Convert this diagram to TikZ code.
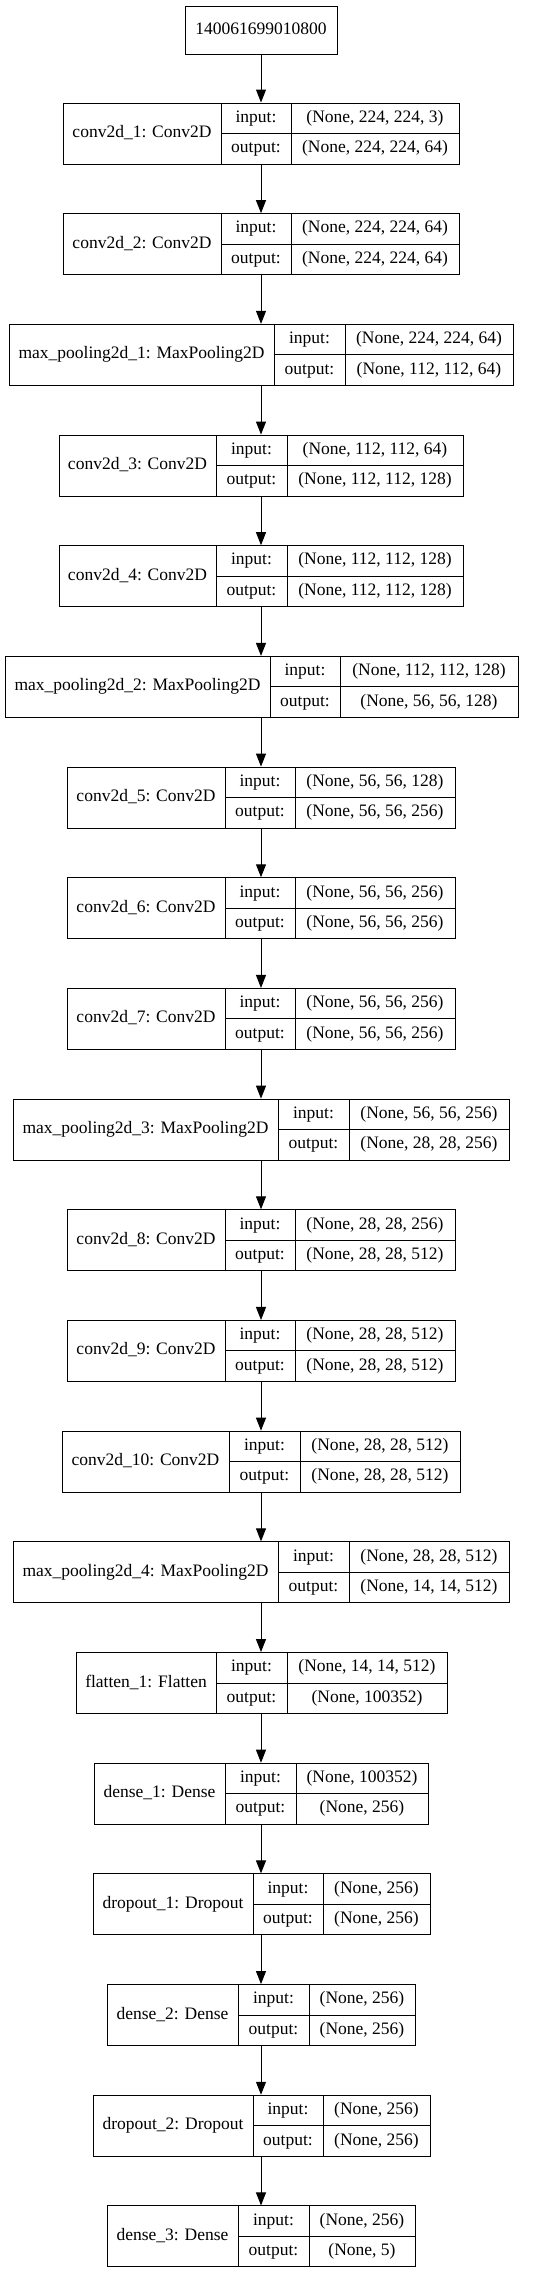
\documentclass[tikz,border=0pt]{standalone}
\usepackage{fontspec}
\setmainfont{Liberation Serif}
\usetikzlibrary{arrows.meta,fit}
\tikzset{
  layerbox/.style={draw, line width=1pt, inner sep=0pt},
  lbl/.style={font=\fontsize{17.5}{21}\selectfont, inner sep=0pt, text height=12pt, text depth=4pt},
  flow/.style={line width=1pt, -{Triangle[length=13pt,width=10pt]}},
  sepline/.style={line width=1pt}
}
\newcommand{\layerrow}[9]{%
  \pgfmathsetmacro{\yt}{103+#6*110.68}%
  \pgfmathsetmacro{\yb}{\yt+61}%
  \pgfmathsetmacro{\ym}{\yt+30.5}%
  \pgfmathsetmacro{\yu}{\yt+15.25}%
  \pgfmathsetmacro{\yl}{\yt+45.75}%
  \coordinate (#1nw) at (#2,\yt);
  \coordinate (#1se) at (#5,\yb);
  \node[layerbox, fit=(#1nw)(#1se)] (#1) {};
  \draw[sepline] (#3,\yt) -- (#3,\yb);
  \draw[sepline] (#4,\yt) -- (#4,\yb);
  \draw[sepline] (#3,\ym) -- (#5,\ym);
  \node[lbl] (#1name) at ({(#2+#3)/2},\ym) {#7};
  \node[lbl] (#1in) at ({(#3+#4)/2},\yu) {input:};
  \node[lbl] (#1out) at ({(#3+#4)/2},\yl) {output:};
  \node[lbl] (#1inv) at ({(#4+#5)/2},\yu) {#8};
  \node[lbl] (#1outv) at ({(#4+#5)/2},\yl) {#9};
}
\begin{document}
\begin{tikzpicture}[x=1pt,y=-1pt]
\useasboundingbox (0,0) rectangle (544,2273);
\node[layerbox, lbl, minimum width=152pt, minimum height=48pt] (top) at (261,30) {140061699010800};
\layerrow{c1}{63}{221}{291}{459}{0}{conv2d\_1: Conv2D}{(None, 224, 224, 3)}{(None, 224, 224, 64)}
\layerrow{c2}{63}{221}{291}{459}{1}{conv2d\_2: Conv2D}{(None, 224, 224, 64)}{(None, 224, 224, 64)}
\layerrow{m1}{9}{274}{345}{513}{2}{max\_pooling2d\_1: MaxPooling2D}{(None, 224, 224, 64)}{(None, 112, 112, 64)}
\layerrow{c3}{59}{216}{287}{463}{3}{conv2d\_3: Conv2D}{(None, 112, 112, 64)}{(None, 112, 112, 128)}
\layerrow{c4}{59}{216}{287}{463}{4}{conv2d\_4: Conv2D}{(None, 112, 112, 128)}{(None, 112, 112, 128)}
\layerrow{m2}{5}{270}{340}{518}{5}{max\_pooling2d\_2: MaxPooling2D}{(None, 112, 112, 128)}{(None, 56, 56, 128)}
\layerrow{c5}{67}{225}{295}{455}{6}{conv2d\_5: Conv2D}{(None, 56, 56, 128)}{(None, 56, 56, 256)}
\layerrow{c6}{67}{225}{295}{455}{7}{conv2d\_6: Conv2D}{(None, 56, 56, 256)}{(None, 56, 56, 256)}
\layerrow{c7}{67}{225}{295}{455}{8}{conv2d\_7: Conv2D}{(None, 56, 56, 256)}{(None, 56, 56, 256)}
\layerrow{m3}{13}{278}{349}{509}{9}{max\_pooling2d\_3: MaxPooling2D}{(None, 56, 56, 256)}{(None, 28, 28, 256)}
\layerrow{c8}{67}{225}{295}{455}{10}{conv2d\_8: Conv2D}{(None, 28, 28, 256)}{(None, 28, 28, 512)}
\layerrow{c9}{67}{225}{295}{455}{11}{conv2d\_9: Conv2D}{(None, 28, 28, 512)}{(None, 28, 28, 512)}
\layerrow{c10}{62}{229}{300}{460}{12}{conv2d\_10: Conv2D}{(None, 28, 28, 512)}{(None, 28, 28, 512)}
\layerrow{m4}{13}{278}{349}{509}{13}{max\_pooling2d\_4: MaxPooling2D}{(None, 28, 28, 512)}{(None, 14, 14, 512)}
\layerrow{fl}{76}{216}{287}{447}{14}{flatten\_1: Flatten}{(None, 14, 14, 512)}{(None, 100352)}
\layerrow{d1}{94}{225}{296}{428}{15}{dense\_1: Dense}{(None, 100352)}{(None, 256)}
\layerrow{dr1}{93}{253}{323}{430}{16}{dropout\_1: Dropout}{(None, 256)}{(None, 256)}
\layerrow{d2}{107}{238}{309}{415}{17}{dense\_2: Dense}{(None, 256)}{(None, 256)}
\layerrow{dr2}{93}{253}{323}{430}{18}{dropout\_2: Dropout}{(None, 256)}{(None, 256)}
\layerrow{d3}{107}{238}{309}{415}{19}{dense\_3: Dense}{(None, 256)}{(None, 5)}
\foreach \a/\b in {top/c1, c1/c2, c2/m1, m1/c3, c3/c4, c4/m2, m2/c5, c5/c6, c6/c7, c7/m3, m3/c8, c8/c9, c9/c10, c10/m4, m4/fl, fl/d1, d1/dr1, dr1/d2, d2/dr2, dr2/d3}
  \draw[flow] (\a.south -| top) -- (\b.north -| top);
\end{tikzpicture}
\end{document}
